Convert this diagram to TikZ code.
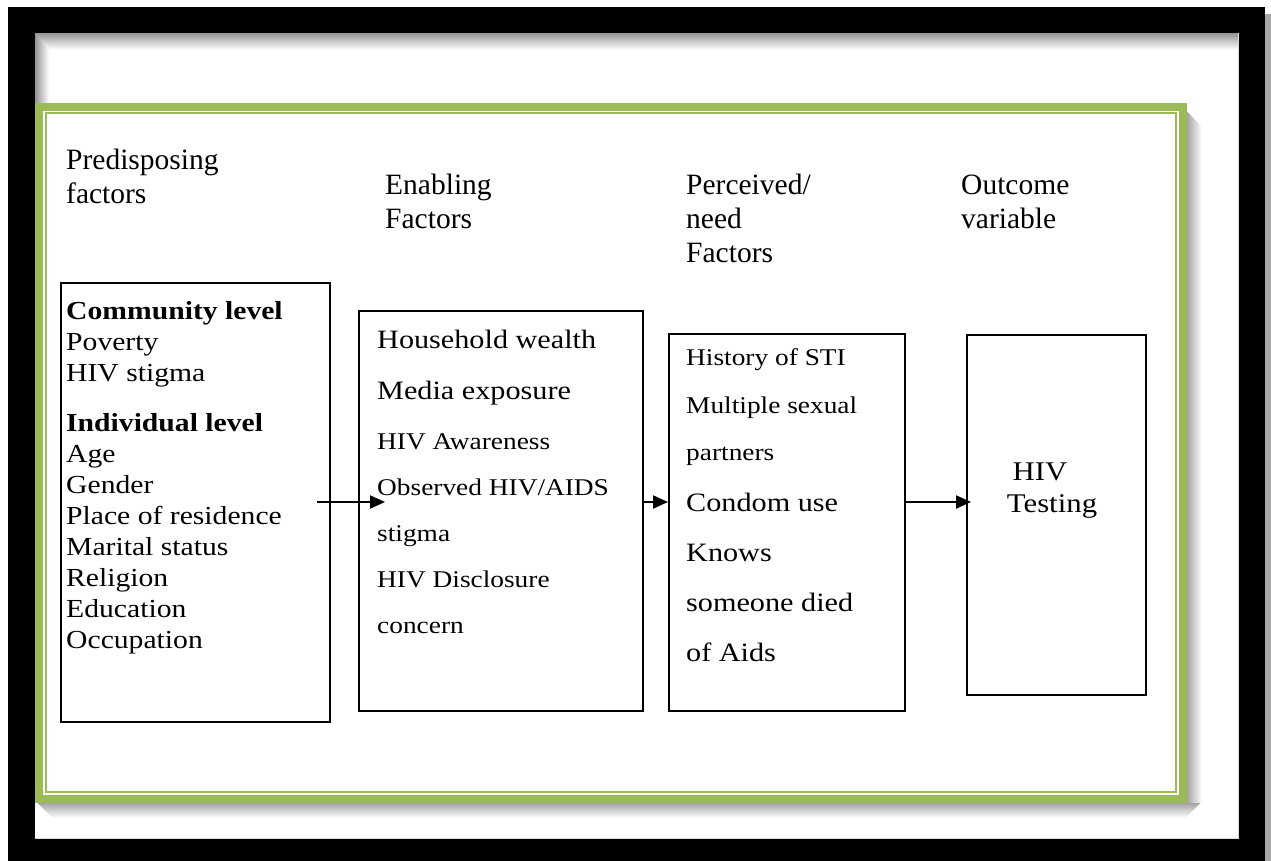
\documentclass[tikz,border=0pt]{standalone}
\usepackage{fontspec}
\usepackage{graphicx}
\setmainfont{Liberation Serif}
\usetikzlibrary{arrows.meta}
\definecolor{frgreen}{RGB}{155,187,89}
\newcommand{\xs}[1]{\scalebox{1.14}[1]{#1}}
\begin{document}
\begin{tikzpicture}[x=1pt,y=-1pt,
  box/.style={draw=black, line width=1.5pt, anchor=north west, inner sep=0pt},
  arr/.style={line width=2pt, -{Triangle[length=15pt,width=13pt]}},
  head/.style={anchor=base west, inner sep=0pt, font=\fontsize{29.5}{34}\selectfont},
  ta/.style={anchor=base west, inner sep=0pt, font=\fontsize{26}{30}\selectfont},
  tb/.style={anchor=base west, inner sep=0pt, font=\fontsize{26.5}{30}\selectfont},
  tc/.style={anchor=base west, inner sep=0pt, font=\fontsize{24}{28}\selectfont},
  te/.style={anchor=base, inner sep=0pt, font=\fontsize{27}{30}\selectfont}
]
\useasboundingbox (0,0) rectangle (1271,861);
% outer black frame
\fill[white] (0,0) rectangle (1271,861);
\fill[black!35] (1265,14) rectangle (1271,861);
\fill[black] (8,7) rectangle (1265,861);
\fill[white] (35,33) rectangle (1238,838);
\draw[black!15, line width=0.8pt] (35,838) -- (1238,838) -- (1238,33);
% inner shadows of the black frame
\foreach \i in {0,...,16}{
  \pgfmathtruncatemacro\c{42-2.5*\i}
  \fill[black!\c] (35,{33+\i}) rectangle (1238,{34+\i});
}
\foreach \i in {0,...,13}{
  \pgfmathtruncatemacro\c{42-3*\i}
  \fill[black!\c] ({35+\i},{33+\i}) rectangle ({36+\i},103);
}
% drop shadow of the green frame
\foreach \i in {0,...,14}{
  \pgfmathtruncatemacro\c{36-2.4*\i}
  \fill[black!\c] ({38+\i},{803+\i}) rectangle ({1200-\i},{804+\i});
  \fill[black!\c] ({1187+\i},{112+\i}) rectangle ({1188+\i},{803});
}
% green double frame
\draw[frgreen, line width=8pt] (39,107) rectangle (1183,799);
\draw[frgreen, line width=2pt] (46,113) rectangle (1176,792);

% headings
\node[head] (h1a) at (66,170) {Predisposing};
\node[head] (h1b) at (66,204) {factors};
\node[head] (h2a) at (385,194) {Enabling};
\node[head] (h2b) at (385,228) {Factors};
\node[head] (h3a) at (686,194) {Perceived/};
\node[head] (h3b) at (686,228) {need};
\node[head] (h3c) at (686,262) {Factors};
\node[head] (h4a) at (961,194) {Outcome};
\node[head] (h4b) at (961,228) {variable};

% boxes
\node[box, minimum width=269pt, minimum height=439pt] (b1) at (60,282) {};
\node[box, minimum width=284pt, minimum height=400pt] (b2) at (358,310) {};
\node[box, minimum width=236pt, minimum height=377pt] (b3) at (668,333) {};
\node[box, minimum width=179pt, minimum height=360pt] (b4) at (966,334) {};

% box 1 text
\node[ta] (t11) at (66,319) {\xs{\textbf{Community level}}};
\node[ta] (t12) at (66,350) {\xs{Poverty}};
\node[ta] (t13) at (66,381) {\xs{HIV stigma}};
\node[ta] (t14) at (66,431) {\xs{\textbf{Individual level}}};
\node[ta] (t15) at (66,462) {\xs{Age}};
\node[ta] (t16) at (66,493) {\xs{Gender}};
\node[ta] (t17) at (66,524) {\xs{Place of residence}};
\node[ta] (t18) at (66,555) {\xs{Marital status}};
\node[ta] (t19) at (66,586) {\xs{Religion}};
\node[ta] (t110) at (66,617) {\xs{Education}};
\node[ta] (t111) at (66,648) {\xs{Occupation}};

% box 2 text
\node[tb] (t21) at (377,348) {\xs{Household wealth}};
\node[tb] (t22) at (377,399) {\xs{Media exposure}};
\node[tc] (t23) at (377,449) {\xs{HIV Awareness}};
\node[tc] (t24) at (377,495) {\xs{Observed HIV/AIDS}};
\node[tc] (t25) at (377,541) {\xs{stigma}};
\node[tc] (t26) at (377,587) {\xs{HIV Disclosure}};
\node[tc] (t27) at (377,633) {\xs{concern}};

% box 3 text
\node[tc] (t31) at (686,365) {\xs{History of STI}};
\node[tc] (t32) at (686,413) {\xs{Multiple sexual}};
\node[tc] (t33) at (686,460) {\xs{partners}};
\node[tb] (t34) at (686,511) {\xs{Condom use}};
\node[tb] (t35) at (686,561) {\xs{Knows}};
\node[tb] (t36) at (686,611) {\xs{someone died}};
\node[tb] (t37) at (686,661) {\xs{of Aids}};

% box 4 text
\node[te] (t41) at (1040,480) {\xs{HIV}};
\node[te] (t42) at (1052,512) {\xs{Testing}};

% arrows
\coordinate (a1s) at (317,502);
\coordinate (a1e) at (385,502);
\draw[arr] (a1s) -- (a1e);
\draw[arr] (a1s -| b2.east) -- (a1s -| b3.west);
\draw[arr] (a1s -| b3.east) -- ([xshift=5pt]a1s -| b4.west);
\end{tikzpicture}
\end{document}
